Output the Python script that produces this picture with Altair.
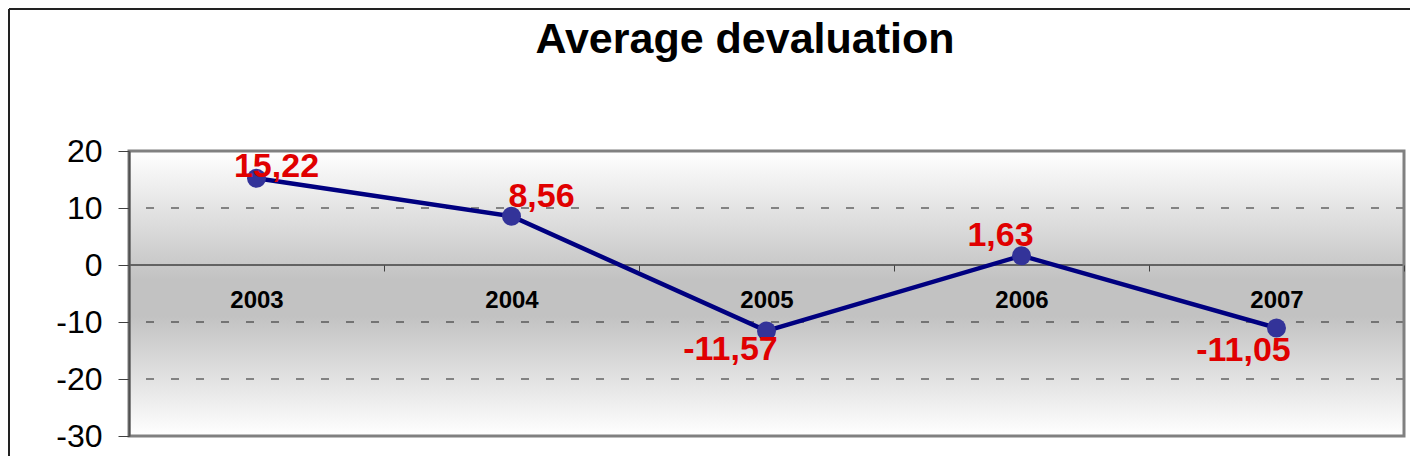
import altair as alt
import pandas as pd

# ---- data ----
years = ["2003", "2004", "2005", "2006", "2007"]
values = [15.22, 8.56, -11.57, 1.63, -11.05]
label_text = ["15,22", "8,56", "-11,57", "1,63", "-11,05"]
y_ticks = [-30, -20, -10, 0, 10, 20]
grid_values = [-20, -10, 10]
title_text = "Average devaluation"

df = pd.DataFrame({"year": years, "value": values, "label": label_text})
grid_df = pd.DataFrame({"v": grid_values})
zero_df = pd.DataFrame({"v": [0]})

W, H = 1275, 285
PAD_R, PAD_B = 6, 20
FONT = "Liberation Sans"

xscale = alt.Scale(type="band", domain=years, paddingInner=0, paddingOuter=0)
yscale = alt.Scale(domain=[-30, 20], nice=False, zero=False)

x_enc = alt.X(
    "year:N",
    scale=xscale,
    axis=alt.Axis(
        title=None, domain=False, ticks=True, tickBand="extent", tickSize=6,
        tickColor="#404040", labelAngle=0, labelFont=FONT, labelFontSize=24,
        labelFontWeight="bold", labelColor="black", labelPadding=36,
        labelBaseline="alphabetic", offset=-171, zindex=1,
    ),
)
y_enc = alt.Y(
    "value:Q",
    scale=yscale,
    axis=alt.Axis(
        title=None, values=y_ticks, grid=False, domain=True, domainColor="#505050",
        domainWidth=2, tickColor="#404040", tickSize=11, labelFont=FONT,
        labelFontSize=32, labelColor="black", labelPadding=16, zindex=1,
        labelExpr="'' + datum.value",
    ),
)

gradient = alt.Gradient(
    gradient="linear",
    stops=[
        alt.GradientStop(color="#ffffff", offset=0),
        alt.GradientStop(color="#c2c2c2", offset=0.45),
        alt.GradientStop(color="#c2c2c2", offset=0.58),
        alt.GradientStop(color="#ffffff", offset=1),
    ],
    x1=0, x2=0, y1=0, y2=1,
)

bg = alt.Chart(zero_df).mark_rect(fill=gradient, strokeWidth=0).encode(
    x=alt.value(0), x2=alt.value(W), y=alt.value(0), y2=alt.value(H)
)

grid = alt.Chart(grid_df).mark_rule(color="#222222", strokeWidth=1, strokeDash=[8, 17]).encode(
    y=alt.Y("v:Q", scale=yscale)
)
zero = alt.Chart(zero_df).mark_rule(color="#404040", strokeWidth=1.5).encode(
    y=alt.Y("v:Q", scale=yscale)
)

base = alt.Chart(df)
line = base.mark_line(color="#000080", strokeWidth=4.5).encode(x=x_enc, y=y_enc)
pts = base.mark_point(filled=True, color="#333399", size=360, opacity=1, shape="circle").encode(
    x=x_enc, y=y_enc
)

offsets = {
    "2003": (20, -1),
    "2004": (30, -9),
    "2005": (-36, 29),
    "2006": (-21, -10),
    "2007": (-33, 33),
}
label_layers = []
for yr in years:
    dx, dy = offsets[yr]
    label_layers.append(
        base.transform_filter(alt.datum.year == yr)
        .mark_text(font=FONT, fontSize=34, fontWeight="bold", color="#e00000",
                   align="center", baseline="alphabetic", dx=dx, dy=dy)
        .encode(x=x_enc, y=y_enc, text="label:N")
    )

plot_border = alt.Chart(zero_df).mark_rect(
    filled=False, fill=None, stroke="#808080", strokeWidth=3
).encode(x=alt.value(0), x2=alt.value(W), y=alt.value(0), y2=alt.value(H))

title = alt.Chart(zero_df).mark_text(
    text=title_text, font=FONT, fontSize=43, fontWeight="bold", color="black",
    align="center", baseline="alphabetic"
).encode(x=alt.value(616), y=alt.value(-98))

# outer chart frame: only top and left edges are visible in the reference
frame_top = alt.Chart(zero_df).mark_rule(color="#222222", strokeWidth=2).encode(
    x=alt.value(-120), x2=alt.value(W + PAD_R), y=alt.value(-142)
)
frame_left = alt.Chart(zero_df).mark_rule(color="#222222", strokeWidth=2).encode(
    x=alt.value(-120), y=alt.value(-142), y2=alt.value(H + PAD_B)
)

chart = alt.layer(
    bg, grid, zero, line, pts, *label_layers, plot_border, title, frame_top, frame_left
).properties(
    width=W, height=H,
    autosize=alt.AutoSizeParams(type="none"),
    padding={"left": 121, "top": 143, "right": PAD_R, "bottom": PAD_B},
).configure_view(
    stroke=None
).configure(background="white")

chart.save("out.html", embed_options={"renderer": "svg", "actions": False})
